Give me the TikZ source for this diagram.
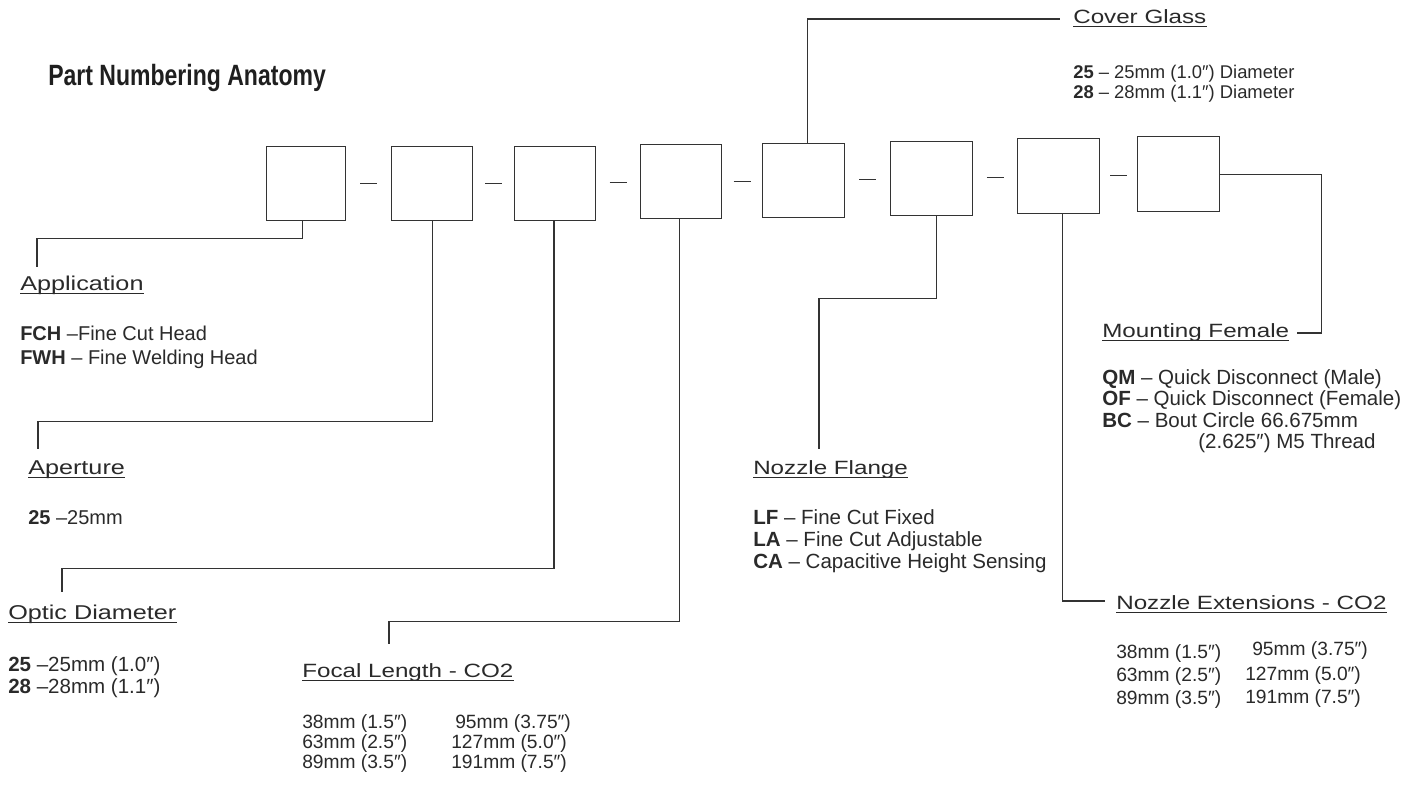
\documentclass[tikz,border=0pt]{standalone}
\usepackage{fontspec}
\setmainfont{Liberation Sans}
\newfontfamily\headfam[FakeStretch=1.26]{Liberation Sans}
\newfontfamily\titlefam[FakeStretch=0.785]{Liberation Sans}
\usetikzlibrary{calc}
\definecolor{ink}{HTML}{333333}
\definecolor{txt}{HTML}{2A2A2A}
\newcommand\ulhead[1]{\draw[uline] ([yshift=-2.6pt]#1.base west) -- ([yshift=-2.6pt]#1.base east);}
\begin{document}
\begin{tikzpicture}[x=0.75pt,y=-0.75pt,
  pbox/.style={draw=ink, line width=1.1pt, inner sep=0pt, anchor=north west},
  conn/.style={draw=ink, line width=1pt},
  sepline/.style={draw=ink, line width=1pt},
  head/.style={font=\headfam\fontsize{14.4}{17}\selectfont, text=txt, inner sep=0pt, anchor=base west},
  headl/.style={font=\headfam\fontsize{15}{18}\selectfont, text=txt, inner sep=0pt, anchor=base west},
  item/.style={font=\fontsize{14.4}{17}\selectfont, text=txt, inner sep=0pt, anchor=base west},
  itemm/.style={font=\fontsize{15}{18}\selectfont, text=txt, inner sep=0pt, anchor=base west},
  iteml/.style={font=\fontsize{15.4}{18}\selectfont, text=txt, inner sep=0pt, anchor=base west},
  items/.style={font=\fontsize{13.8}{16}\selectfont, text=txt, inner sep=0pt, anchor=base west},
  uline/.style={draw=txt, line width=0.8pt},
  ttl/.style={font=\titlefam\bfseries\fontsize{22}{26}\selectfont, text=black!88, inner sep=0pt, anchor=base west}]
\useasboundingbox[fill=white] (0,0) rectangle (1408,785);

% title
\node[ttl] (title) at (48,85) {Part Numbering Anatomy};

% boxes
\node[pbox, minimum width={(345-266)*0.75pt}, minimum height={(220-146)*0.75pt}] (b1) at (266,146) {};
\node[pbox, minimum width={(472-391)*0.75pt}, minimum height={(220-146)*0.75pt}] (b2) at (391,146) {};
\node[pbox, minimum width={(595-514)*0.75pt}, minimum height={(220-146)*0.75pt}] (b3) at (514,146) {};
\node[pbox, minimum width={(721-640)*0.75pt}, minimum height={(218-144)*0.75pt}] (b4) at (640,144) {};
\node[pbox, minimum width={(844-762)*0.75pt}, minimum height={(217-143)*0.75pt}] (b5) at (762,143) {};
\node[pbox, minimum width={(972-890)*0.75pt}, minimum height={(215-141)*0.75pt}] (b6) at (890,141) {};
\node[pbox, minimum width={(1099-1017)*0.75pt}, minimum height={(213-138)*0.75pt}] (b7) at (1017,138) {};
\node[pbox, minimum width={(1219-1137)*0.75pt}, minimum height={(211-136)*0.75pt}] (b8) at (1137,136) {};

% separators
\foreach \a/\b in {b1/b2,b2/b3,b3/b4,b4/b5,b5/b6,b6/b7,b7/b8}{
  \draw[sepline] ($(\a.east)!0.5!(\b.west)$) ++(-8.5,0) -- ++(17,0);
}

% Cover Glass
\node[head] (cgh) at (1073,23) {Cover Glass};
\ulhead{cgh}
\node[items] (cg1) at (1073,78) {\textbf{25} – 25mm (1.0″) Diameter};
\node[items] (cg2) at (1073,98) {\textbf{28} – 28mm (1.1″) Diameter};
\coordinate (cgend) at (1060,19);
\draw[conn] ([xshift=2.8pt]b5.north) |- (cgend);

% Application
\node[headl] (aph) at (20,290) {Application};
\ulhead{aph}
\node[itemm] (ap1) at (20,340) {\textbf{FCH} –Fine Cut Head};
\node[itemm] (ap2) at (20,364) {\textbf{FWH} – Fine Welding Head};
\coordinate (apend) at (37,267);
\draw[conn] ([xshift=-2.6pt]b1.south) -- ++(0,17) -| (apend);

% Aperture
\node[headl] (aeh) at (28,474) {Aperture};
\ulhead{aeh}
\node[itemm] (ae1) at (28,524) {\textbf{25} –25mm};
\coordinate (aeend) at (38,449);
\draw[conn] (b2.south) -- ++(0,200) -| (aeend);

% Optic Diameter
\node[headl] (odh) at (8,619) {Optic Diameter};
\ulhead{odh}
\node[iteml] (od1) at (8,671) {\textbf{25} –25mm (1.0″)};
\node[iteml] (od2) at (8,693) {\textbf{28} –28mm (1.1″)};
\coordinate (odend) at (62,592);
\draw[conn] ([xshift=-1pt]b3.south) -- ++(0,347) -| (odend);

% Focal Length
\node[head] (flh) at (302,677) {Focal Length - CO2};
\ulhead{flh}
\node[item] (fl1) at (302,728) {38mm (1.5″)};
\node[item] (fl2) at (302,748) {63mm (2.5″)};
\node[item] (fl3) at (302,768) {89mm (3.5″)};
\node[item] (fl4) at (455,728) {95mm (3.75″)};
\node[item] (fl5) at (451,748) {127mm (5.0″)};
\node[item] (fl6) at (451,768) {191mm (7.5″)};
\coordinate (flend) at (389,644);
\draw[conn] ([xshift=-1.5pt]b4.south) -- ++(0,402) -| (flend);

% Nozzle Flange
\node[head] (nfh) at (753,474) {Nozzle Flange};
\ulhead{nfh}
\node[iteml] (nf1) at (753,524) {\textbf{LF} – Fine Cut Fixed};
\node[iteml] (nf2) at (753,546) {\textbf{LA} – Fine Cut Adjustable};
\node[iteml] (nf3) at (753,568) {\textbf{CA} – Capacitive Height Sensing};
\coordinate (nfend) at (819,449);
\draw[conn] ([xshift=3.75pt]b6.south) -- ++(0,82) -| (nfend);

% Mounting Female
\node[head] (mfh) at (1102,337) {Mounting Female};
\ulhead{mfh}
\node[iteml] (mf1) at (1102,384) {\textbf{QM} – Quick Disconnect (Male)};
\node[iteml] (mf2) at (1102,405) {\textbf{OF} – Quick Disconnect (Female)};
\node[iteml] (mf3) at (1102,427) {\textbf{BC} – Bout Circle 66.675mm};
\node[iteml] (mf4) at (1198,448) {(2.625″) M5 Thread};
\coordinate (mfend) at (1297,333);
\draw[conn] (b8.east) -- ++(101,0) |- (mfend);

% Nozzle Extensions
\node[head] (neh) at (1116,609) {Nozzle Extensions - CO2};
\ulhead{neh}
\node[item] (ne1) at (1116,658) {38mm (1.5″)};
\node[item] (ne2) at (1116,681) {63mm (2.5″)};
\node[item] (ne3) at (1116,704) {89mm (3.5″)};
\node[item] (ne4) at (1252,655) {95mm (3.75″)};
\node[item] (ne5) at (1245,680) {127mm (5.0″)};
\node[item] (ne6) at (1245,703) {191mm (7.5″)};
\coordinate (neend) at (1105,601);
\draw[conn] ([xshift=2.8pt]b7.south) |- (neend);
\end{tikzpicture}
\end{document}
